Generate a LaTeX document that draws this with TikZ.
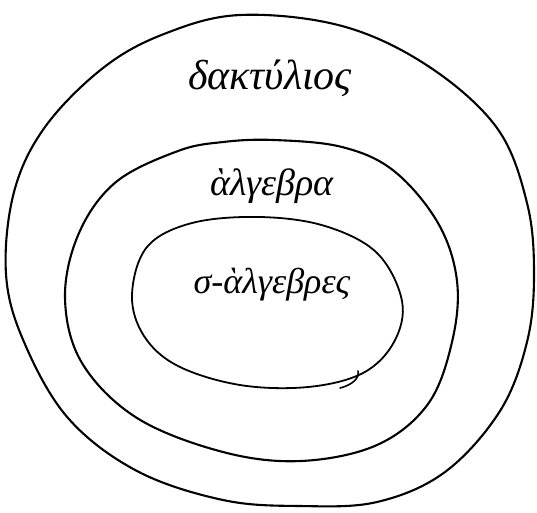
\documentclass[tikz,border=0pt]{standalone}
\usepackage{fontspec}
\setmainfont{Liberation Serif}
\begin{document}
\begin{tikzpicture}[x=1pt,y=-1pt,
  loop/.style={draw=black,line width=2.1pt,line join=round,line cap=round},
  lbl/.style={font=\itshape\fontsize{36}{40}\selectfont,inner sep=0pt}]
\useasboundingbox (0,0) rectangle (537,512);
% outer: dactylios
\draw[loop] plot[smooth cycle,tension=0.6] coordinates {
 (240,15) (342,26) (428,66) (497,128) (527,203) (534,274) (527,342) (500,411)
 (445,472) (377,502) (300,506) (223,500) (137,471) (68,418) (24,342) (6,274)
 (14,192) (45,127) (103,68) (164,34)};
% middle: algebra
\draw[loop] plot[smooth cycle,tension=0.6] coordinates {
 (274,140) (342,147) (394,171) (438,223) (457,281) (452,342) (428,404)
 (377,445) (301,461) (223,452) (137,418) (82,363) (65,298) (79,233)
 (116,182) (178,151) (223,142)};
% inner: sigma-algebras
\draw[loop,line width=1.8pt] plot[smooth cycle,tension=0.6] coordinates {
 (260,217) (325,226) (377,253) (402,301) (394,342) (363,373) (308,387)
 (240,385) (178,366) (144,336) (132,295) (147,247) (192,223)};
\draw[loop,line width=1.6pt] (340,388) .. controls (352,385) and (360,378) .. (358,371);
\node[lbl,font=\itshape\fontsize{42}{46}\selectfont] (ring) at (270,78) {δακτύλιος};
\node[lbl,font=\itshape\fontsize{38}{42}\selectfont] (alg) at (272,186) {ὰλγεβρα};
\node[lbl] (salg) at (272,285) {σ-ὰλγεβρες};
\end{tikzpicture}
\end{document}
